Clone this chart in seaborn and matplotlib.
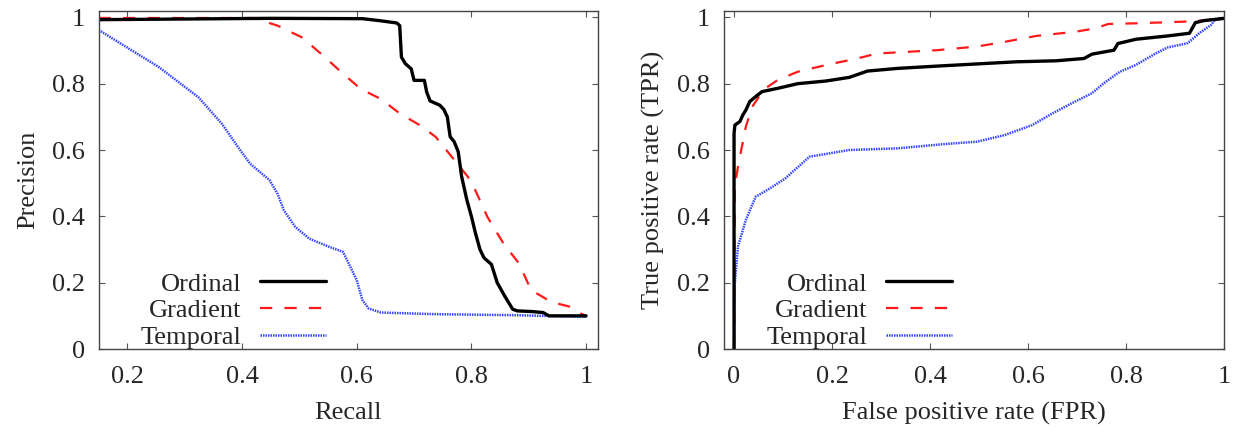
import numpy as np
import pandas as pd
import seaborn as sns
from matplotlib import pyplot as plt
from matplotlib.ticker import FuncFormatter

# ------------------------------------------------------------
# Precision / recall curves (left panel)
# ------------------------------------------------------------
pr_ordinal_recall = [0.15, 0.30, 0.45, 0.61, 0.64, 0.67, 0.675, 0.678, 0.685, 0.695, 0.700, 0.718,
                     0.722, 0.728, 0.745, 0.752, 0.758, 0.763, 0.770, 0.777, 0.783, 0.792, 0.800,
                     0.807, 0.815, 0.822, 0.835, 0.845, 0.858, 0.872, 0.880, 0.905, 0.925, 0.935,
                     0.950, 1.0]
pr_ordinal_precision = [0.993, 0.995, 0.997, 0.996, 0.99, 0.983, 0.975, 0.88, 0.86, 0.845, 0.81, 0.81,
                        0.775, 0.748, 0.735, 0.722, 0.70, 0.64, 0.625, 0.595, 0.52, 0.45, 0.40,
                        0.35, 0.30, 0.275, 0.255, 0.20, 0.16, 0.12, 0.115, 0.113, 0.11, 0.10,
                        0.10, 0.10]

pr_gradient_recall = [0.15, 0.30, 0.42, 0.462, 0.504, 0.538, 0.573, 0.607, 0.642, 0.676, 0.711, 0.738,
                      0.766, 0.794, 0.807, 0.828, 0.856, 0.883, 0.904, 0.939, 0.973, 0.984, 1.0]
pr_gradient_precision = [0.998, 0.998, 0.998, 0.975, 0.94, 0.89, 0.835, 0.784, 0.754, 0.709, 0.674,
                         0.639, 0.579, 0.519, 0.478, 0.398, 0.318, 0.258, 0.178, 0.142, 0.127, 0.112,
                         0.10]

pr_temporal_recall = [0.15, 0.255, 0.324, 0.365, 0.393, 0.414, 0.448, 0.462, 0.473, 0.493, 0.517,
                      0.552, 0.576, 0.586, 0.600, 0.610, 0.621, 0.642, 0.738, 0.876, 1.0]
pr_temporal_precision = [0.962, 0.85, 0.759, 0.679, 0.609, 0.559, 0.509, 0.468, 0.418, 0.368, 0.333,
                         0.308, 0.293, 0.258, 0.208, 0.147, 0.122, 0.11, 0.105, 0.102, 0.097]

# ------------------------------------------------------------
# ROC curves (right panel)
# ------------------------------------------------------------
roc_ordinal_fpr = [0.0, 0.0, 0.0017, 0.012, 0.018, 0.024, 0.032, 0.044, 0.057, 0.089, 0.13, 0.187,
                   0.235, 0.272, 0.333, 0.414, 0.576, 0.657, 0.714, 0.73, 0.775, 0.783, 0.82, 0.885,
                   0.929, 0.941, 0.958, 1.0]
roc_ordinal_tpr = [0.0, 0.65, 0.675, 0.686, 0.706, 0.72, 0.746, 0.761, 0.776, 0.786, 0.80, 0.808,
                   0.819, 0.838, 0.846, 0.853, 0.866, 0.869, 0.876, 0.889, 0.901, 0.921, 0.934, 0.944,
                   0.952, 0.984, 0.99, 0.997]

roc_gradient_fpr = [0.0, 0.0015, 0.008, 0.016, 0.024, 0.037, 0.053, 0.069, 0.089, 0.13, 0.187, 0.251,
                    0.292, 0.414, 0.495, 0.544, 0.617, 0.698, 0.738, 0.763, 0.82, 0.917, 0.965, 1.0]
roc_gradient_tpr = [0.0, 0.49, 0.55, 0.61, 0.67, 0.73, 0.766, 0.791, 0.811, 0.836, 0.856, 0.876,
                    0.891, 0.901, 0.912, 0.924, 0.944, 0.957, 0.967, 0.98, 0.982, 0.987, 0.992, 0.997]

roc_temporal_fpr = [0.0, 0.0015, 0.008, 0.024, 0.044, 0.073, 0.105, 0.154, 0.187, 0.235, 0.333, 0.43,
                    0.495, 0.552, 0.608, 0.649, 0.689, 0.73, 0.754, 0.787, 0.819, 0.86, 0.884, 0.925,
                    0.949, 0.973, 0.981, 1.0]
roc_temporal_tpr = [0.0, 0.198, 0.309, 0.389, 0.459, 0.484, 0.515, 0.58, 0.588, 0.60, 0.605, 0.618,
                    0.625, 0.645, 0.675, 0.71, 0.741, 0.771, 0.801, 0.836, 0.856, 0.891, 0.909, 0.922,
                    0.952, 0.977, 0.992, 0.997]

series_names = ["Ordinal", "Gradient", "Temporal"]
styles = {
    "Ordinal": dict(color="black", linewidth=2.4, linestyle="-"),
    "Gradient": dict(color="#ff1a1a", linewidth=1.6, linestyle=(0, (5.5, 5.5))),
    "Temporal": dict(color="#3344ff", linewidth=1.8, linestyle=(0, (0.6, 0.4))),
}

pr_data = {
    "Ordinal": (pr_ordinal_recall, pr_ordinal_precision),
    "Gradient": (pr_gradient_recall, pr_gradient_precision),
    "Temporal": (pr_temporal_recall, pr_temporal_precision),
}
roc_data = {
    "Ordinal": (roc_ordinal_fpr, roc_ordinal_tpr),
    "Gradient": (roc_gradient_fpr, roc_gradient_tpr),
    "Temporal": (roc_temporal_fpr, roc_temporal_tpr),
}

sns.set_style("ticks")
plt.rcParams['font.family'] = ['Liberation Serif', 'DejaVu Serif']

fig = plt.figure(figsize=(12.41, 4.32), dpi=100)
ax_pr = fig.add_axes([0.0795, 0.1921, 0.4020, 0.7831])
ax_roc = fig.add_axes([0.5836, 0.1921, 0.4029, 0.7831])


def draw_panel(ax, data, xlabel, ylabel, xlim, xticks):
    # draw the three curves in reverse so the solid line sits on top
    for name in reversed(series_names):
        xs, ys = data[name]
        df = pd.DataFrame({"x": xs, "y": ys})
        sns.lineplot(data=df, x="x", y="y", ax=ax, sort=False, estimator=None,
                     label=name, **styles[name])
    ax.set_xlim(*xlim)
    ax.set_ylim(0, 1.02)
    ax.set_xticks(xticks)
    ax.set_yticks([0, 0.2, 0.4, 0.6, 0.8, 1.0])
    fmt = FuncFormatter(lambda v, p: f"{v:g}")
    ax.xaxis.set_major_formatter(fmt)
    ax.yaxis.set_major_formatter(fmt)
    ax.tick_params(direction="in", length=4, width=0.8, color="#555555",
                   top=True, right=True, labelsize=19)
    ax.tick_params(axis="x", pad=12)
    ax.tick_params(axis="y", pad=10)
    for sp in ax.spines.values():
        sp.set_color("#444444")
        sp.set_linewidth(1.0)
    ax.set_xlabel(xlabel, fontsize=19, labelpad=10)
    ax.set_ylabel(ylabel, fontsize=19, labelpad=9)

    handles, labels = ax.get_legend_handles_labels()
    order = [labels.index(n) for n in series_names]
    ax.legend([handles[i] for i in order], [labels[i] for i in order],
              loc="lower right", bbox_to_anchor=(0.455, 0.0), frameon=False,
              markerfirst=False, fontsize=19, handlelength=2.5, handletextpad=0.7,
              labelspacing=0.12, borderpad=0, borderaxespad=0)


draw_panel(ax_pr, pr_data, "Recall", "Precision", (0.15, 1.02), [0.2, 0.4, 0.6, 0.8, 1.0])
draw_panel(ax_roc, roc_data, "False positive rate (FPR)", "True positive rate (TPR)",
           (-0.02, 1.0), [0, 0.2, 0.4, 0.6, 0.8, 1.0])

plt.savefig("out.png", dpi=100)
